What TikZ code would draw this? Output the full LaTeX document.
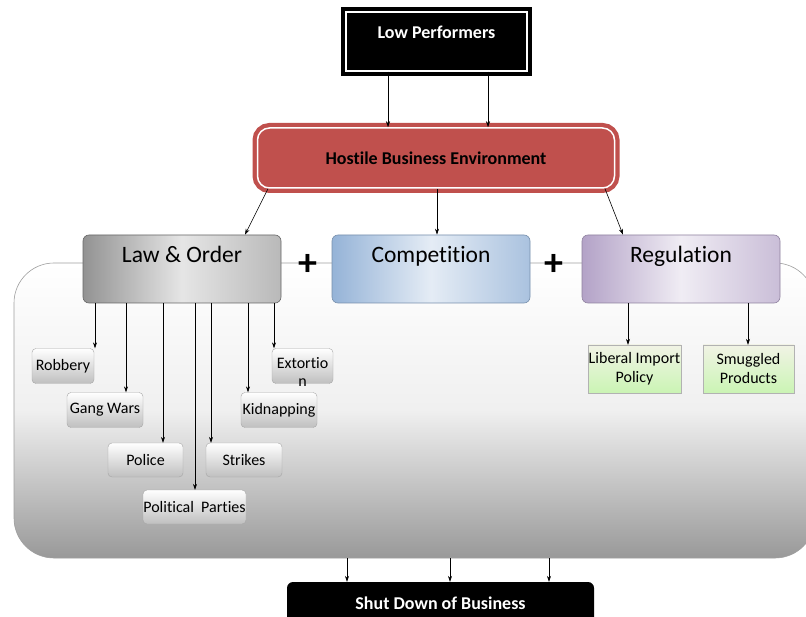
\documentclass[tikz,border=0pt]{standalone}
\usepackage{fontspec}
\setmainfont{Carlito}[Ligatures=NoCommon]
\usetikzlibrary{arrows.meta}

\begin{document}
\begin{tikzpicture}[x=1pt,y=-1pt,
  arr/.style={-{Stealth[length=6pt,width=4pt]},line width=0.6pt},
  headbox/.style={rounded corners=6pt,draw=#1!80!black,line width=0.6pt,
    minimum width=198pt,minimum height=68pt,inner ysep=6pt,
    text height=22pt,text depth=34pt,font=\fontsize{23.5}{25}\selectfont},
  smallbox/.style={rounded corners=4pt,draw=gray!70,top color=white,bottom color=gray!50,
    inner sep=0pt,font=\fontsize{16}{18}\selectfont},
  greenbox/.style={draw=gray!60,top color=green!8!olive!10!white,bottom color=olive!35!green!25!white,
    inner sep=0pt,minimum height=48pt,align=center,font=\fontsize{16}{19}\selectfont}]
  \definecolor{hostred}{HTML}{C0504D}
  \definecolor{compblue}{HTML}{95B3D7}
  \definecolor{regpurple}{HTML}{B3A2C7}
  \clip (0,0) rectangle (806,617);
  \fill[white] (0,0) rectangle (806,617);

  %% the big rounded panel behind the three factors, it runs off the right edge
  \node[draw=gray!75,line width=0.6pt,rounded corners=40pt,minimum width=801pt,minimum height=295pt,
    top color=white,bottom color=gray!80,middle color=gray!12] (panel) at (414.5,410.5) {};

  %% top: black box with a white line inside, then the red one
  \node[fill=black,draw=white,line width=1.5pt,preaction={draw=black,line width=10pt},
    minimum width=181pt,minimum height=59pt,inner ysep=4pt,text height=23pt,text depth=28pt,
    text=white,font=\fontsize{18}{20}\selectfont\bfseries] (low) at (436.5,41.5) {Low Performers};
  \node[fill=hostred,draw=white,line width=1.5pt,preaction={draw=hostred,line width=10pt},
    rounded corners=12pt,minimum width=357pt,minimum height=60pt,
    font=\fontsize{18}{20}\selectfont\bfseries] (hostile) at (436,158) {Hostile Business Environment};

  \draw[arr] (388,0 |- low.south) -- (388,0 |- hostile.north);
  \draw[arr] (488,0 |- low.south) -- (488,0 |- hostile.north);

  %% the three factors
  \node[headbox=gray,shading angle=60,left color=gray!85,right color=gray!55,middle color=gray!20] (law) at (182,269) {Law \& Order};
  \node[headbox=compblue,shading angle=60,left color=compblue,right color=compblue!80,middle color=compblue!25] (comp) at (431,269) {Competition};
  \node[headbox=regpurple,shading angle=60,left color=regpurple,right color=regpurple!70,middle color=regpurple!20] (reg) at (681,269) {Regulation};

  \node[font=\fontsize{38}{38}\selectfont\bfseries,inner sep=0pt] (plusa) at (308,265) {+};
  \node[font=\fontsize{38}{38}\selectfont\bfseries,inner sep=0pt] (plusb) at (554,265) {+};

  \draw[arr] (268,0 |- hostile.south) -- (245,0 |- law.north);
  \draw[arr] (437,0 |- hostile.south) -- (437,0 |- comp.north);
  \draw[arr] (605,0 |- hostile.south) -- (623,0 |- reg.north);

  %% law & order, seven causes
  \node[smallbox,minimum width=62pt,minimum height=35pt] (robbery) at (63,366) {Robbery};
  \node[smallbox,minimum width=76pt,minimum height=35pt] (gang) at (105,410) {Gang Wars};
  \node[smallbox,minimum width=75pt,minimum height=34pt] (police) at (145.5,460) {Police};
  \node[smallbox,minimum width=103pt,minimum height=34pt] (parties) at (194.5,507) {Political\ \ Parties};
  \node[smallbox,minimum width=76pt,minimum height=34pt] (strikes) at (244,460) {Strikes};
  \node[smallbox,minimum width=76pt,minimum height=35pt] (kidnap) at (279,410) {Kidnapping};
  \node[smallbox,minimum width=61pt,minimum height=35pt,text height=30pt,text depth=5pt] (extort) at (302.5,366)
    {\begin{tabular}{@{}c@{}}Extortio\\[0pt]n\end{tabular}};

  \foreach \x/\n in {95/robbery,126/gang,163/police,195/parties,211/strikes,248/kidnap,274/extort}
    \draw[arr] (\x,0 |- law.south) -- (\x,0 |- \n.north);

  %% regulation, two causes
  \node[greenbox,minimum width=93pt] (import) at (634.5,369) {Liberal Import\\Policy};
  \node[greenbox,minimum width=91pt] (smuggled) at (748.5,369) {Smuggled\\Products};

  \draw[arr] (628,0 |- reg.south) -- (628,0 |- import.north);
  \draw[arr] (748,0 |- reg.south) -- (748,0 |- smuggled.north);

  %% bottom
  \node[fill=black,rounded corners=6pt,minimum width=307pt,minimum height=42pt,
    text=white,font=\fontsize{18}{20}\selectfont\bfseries] (shut) at (440.5,603) {Shut Down of Business};
  \foreach \x in {347,450,549}
    \draw[arr] (\x,0 |- panel.south) -- (\x,0 |- shut.north);
\end{tikzpicture}
\end{document}
